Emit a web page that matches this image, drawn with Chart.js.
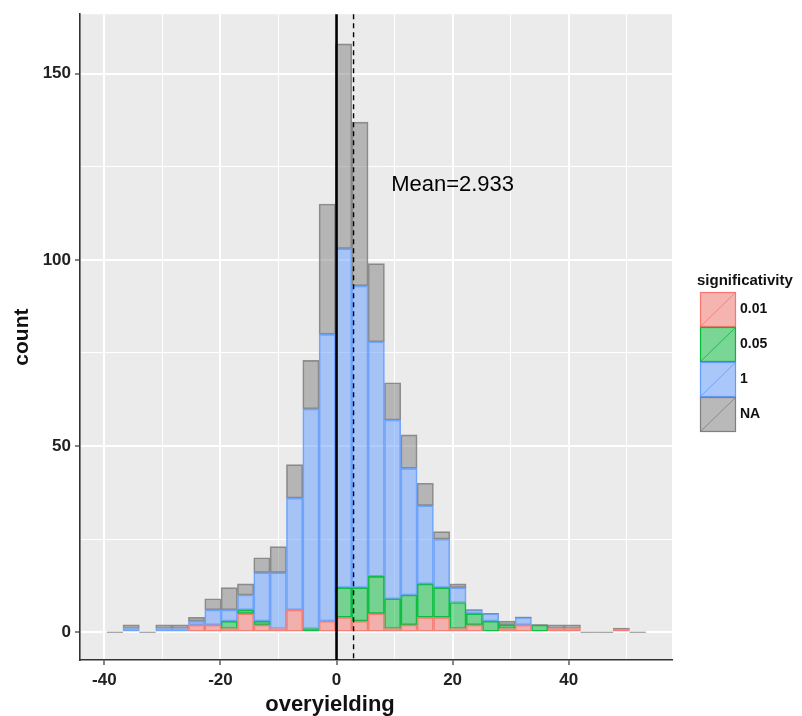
<!DOCTYPE html>
<html><head><meta charset="utf-8">
<script src="https://cdn.jsdelivr.net/npm/chart.js@4.4.1/dist/chart.umd.min.js"></script>
<style>html,body{margin:0;padding:0;background:#fff;}#wrap{width:802px;height:716px;position:relative;}</style>
</head><body><div id="wrap"><canvas id="c" width="802" height="716"></canvas></div>
<script>
// bin centres of the histogram (overyielding)
const binCenters = [-38.19,-35.38,-32.56,-29.75,-26.93,-24.12,-21.30,-18.49,-15.67,-12.86,-10.04,-7.23,-4.41,-1.60,1.22,4.03,6.85,9.66,12.48,15.29,18.11,20.92,23.74,26.55,29.37,32.18,35.00,37.81,40.63,43.44,46.26,49.07,51.89];
// counts per significativity level
const count001 = [0,0,0,0,0,2,2,1,5,2,1,6,0,3,4,3,5,1,2,4,4,1,2,0,1,2,0,1,1,0,0,1,0];
const count005 = [0,0,0,0,0,0,0,2,1,1,0,0,1,0,8,9,10,8,8,9,8,7,3,3,1,0,2,0,0,0,0,0,0];
const count1   = [0,1,0,1,1,1,4,3,4,13,15,30,59,77,91,81,63,48,34,21,13,4,1,2,0,2,0,0,0,0,0,0,0];
const countNA  = [0,1,0,1,1,1,3,6,3,4,7,9,13,35,55,44,21,10,9,6,2,1,0,0,1,0,0,1,1,0,0,0,0];
const levels = ['0.01','0.05','1','NA'];
const xTickValues = [-40,-30,-20,-10,0,10,20,30,40,50];
const xTickLabels = ['-40','','-20','','0','','20','','40',''];
const yTickValues = [0,25,50,75,100,125,150];
const yTickLabels = ['0','','50','','100','','150'];
const meanValue = 2.933;
const meanLabel = 'Mean=2.933';
const xTitle = 'overyielding';
const yTitle = 'count';
const legendTitle = 'significativity';

const colors = ['#F8766D','#00BA38','#619CFF','#7F7F7F'];
const borders = ['rgba(248,118,109,0.9)','rgba(0,186,56,0.9)','rgba(97,156,255,0.85)','rgba(127,127,127,0.85)'];
const fills  = ['rgba(248,118,109,0.5)','rgba(0,186,56,0.5)','rgba(97,156,255,0.5)','rgba(127,127,127,0.5)'];
const FONT = "'Liberation Sans', Arial, sans-serif";

function mk(arr){ return arr.map((v,i)=>({x:binCenters[i], y:v})); }
const series = [count001,count005,count1,countNA];
const datasets = series.map((s,i)=>({
  label: levels[i], data: mk(s), backgroundColor: fills[i], borderColor: borders[i],
  borderWidth: 1, borderSkipped: false, barPercentage: 1, categoryPercentage: 1
}));

const decor = {
  id: 'decor',
  beforeDraw(chart){
    const {ctx, chartArea:a} = chart;
    ctx.save(); ctx.fillStyle = '#EBEBEB';
    ctx.fillRect(a.left, a.top, a.right-a.left, a.bottom-a.top); ctx.restore();
  },
  afterDatasetsDraw(chart){
    const {ctx, chartArea:a, scales:{x,y}} = chart;
    ctx.save();
    // zero-height outline on top of stacks with no NA
    const meta = chart.getDatasetMeta(3);
    meta.data.forEach((el,i)=>{
      if (countNA[i] === 0){
        ctx.strokeStyle = 'rgba(127,127,127,0.8)'; ctx.lineWidth = 1.2;
        ctx.beginPath(); ctx.moveTo(el.x-el.width/2, el.y); ctx.lineTo(el.x+el.width/2, el.y); ctx.stroke();
      }
    });
    // vertical line at 0
    const x0 = x.getPixelForValue(0);
    ctx.strokeStyle = '#000'; ctx.lineWidth = 2.6; ctx.setLineDash([]);
    ctx.beginPath(); ctx.moveTo(x0, a.top); ctx.lineTo(x0, a.bottom); ctx.stroke();
    // dashed mean line
    const xm = x.getPixelForValue(meanValue);
    ctx.lineWidth = 1.4; ctx.setLineDash([5,4]);
    ctx.beginPath(); ctx.moveTo(xm, a.top); ctx.lineTo(xm, a.bottom); ctx.stroke();
    ctx.setLineDash([]);
    // mean label
    ctx.fillStyle = '#000'; ctx.font = '22px ' + FONT; ctx.textAlign = 'center'; ctx.textBaseline = 'middle';
    ctx.fillText(meanLabel, x.getPixelForValue(20), y.getPixelForValue(120));
    ctx.restore();
  },
  afterDraw(chart){
    const {ctx, chartArea:a} = chart;
    ctx.save();
    // x axis title
    ctx.fillStyle = '#111'; ctx.font = 'bold 22px ' + FONT; ctx.textAlign = 'center'; ctx.textBaseline = 'middle';
    ctx.fillText(xTitle, (a.left+a.right)/2 - 46, 705);
    // legend
    const lx = a.right + 28, ly = 292, kw = 36, kh = 35;
    ctx.textAlign = 'left'; ctx.font = 'bold 15px ' + FONT; ctx.fillStyle = '#111';
    ctx.fillText(legendTitle, lx - 3, 281);
    levels.forEach((lab,i)=>{
      const by = ly + i*kh;
      ctx.fillStyle = '#F2F2F2'; ctx.fillRect(lx, by, kw, kh);
      ctx.fillStyle = fills[i]; ctx.fillRect(lx, by, kw, kh);
      ctx.strokeStyle = colors[i]; ctx.lineWidth = 1.2;
      ctx.strokeRect(lx+0.5, by+0.5, kw-1, kh-1);
      ctx.beginPath(); ctx.moveTo(lx+1, by+kh-1); ctx.lineTo(lx+kw-1, by+1); ctx.lineWidth = 0.8; ctx.stroke();
      ctx.fillStyle = '#111'; ctx.font = 'bold 14px ' + FONT;
      ctx.fillText(lab, lx + kw + 4, by + kh/2);
    });
    ctx.restore();
  }
};

new Chart(document.getElementById('c'), {
  type: 'bar',
  data: { datasets },
  options: {
    responsive: false, animation: false, devicePixelRatio: 1,
    layout: { padding: { top: 8, right: 130, left: 0, bottom: 0 } },
    plugins: { legend: { display: false }, tooltip: { enabled: false } },
    scales: {
      x: {
        type: 'linear', stacked: true, min: -44.2, max: 57.8, offset: false,
        afterBuildTicks: s => { s.ticks = xTickValues.map(v=>({value:v})); },
        afterFit: s => { s.height = 56; },
        ticks: { autoSkip: false, maxRotation: 0, padding: 5, color: '#222',
          font: { family: FONT, size: 17, weight: 'bold' },
          callback: v => xTickLabels[xTickValues.indexOf(v)] },
        grid: { offset: false, color: '#FFFFFF', tickLength: 5,
          lineWidth: c => (c.tick && c.tick.value % 20 === 0) ? 2 : 1,
          tickColor: c => (c.tick && c.tick.value % 20 === 0) ? '#333' : 'rgba(0,0,0,0)',
          tickWidth: 1.2 },
        border: { display: true, color: '#333', width: 1.6 },
        title: { display: false }
      },
      y: {
        type: 'linear', stacked: true, min: -7.45, max: 165.96,
        afterBuildTicks: s => { s.ticks = yTickValues.map(v=>({value:v})); },
        afterFit: s => { s.width = 80; },
        ticks: { padding: 4, color: '#222',
          font: { family: FONT, size: 17, weight: 'bold' },
          callback: v => yTickLabels[yTickValues.indexOf(v)] },
        grid: { color: '#FFFFFF', tickLength: 5,
          lineWidth: c => (c.tick && c.tick.value % 50 === 0) ? 2 : 1,
          tickColor: c => (c.tick && c.tick.value % 50 === 0) ? '#333' : 'rgba(0,0,0,0)',
          tickWidth: 1.2 },
        border: { display: true, color: '#333', width: 1.6 },
        title: { display: true, text: yTitle, color: '#111', padding: { top: 10, bottom: 0 },
          font: { family: FONT, size: 21, weight: 'bold' } }
      }
    }
  },
  plugins: [decor]
});
</script></body></html>
